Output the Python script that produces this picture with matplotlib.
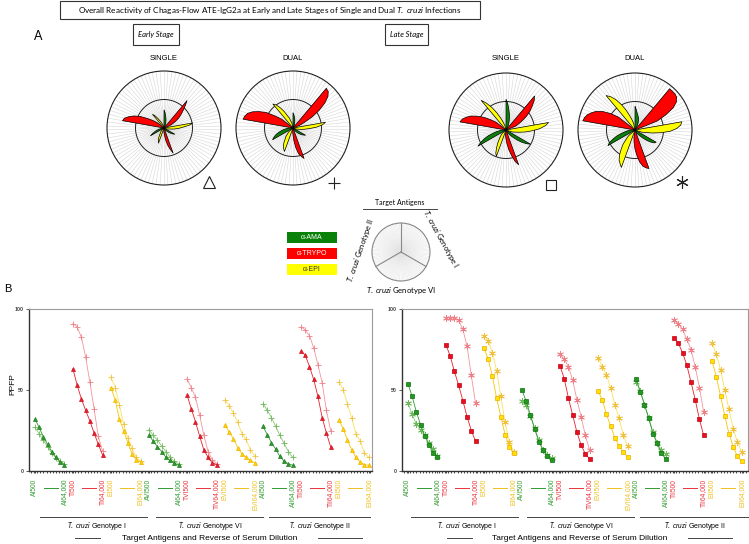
import matplotlib.pyplot as plt
import numpy as np
from matplotlib.lines import Line2D
from matplotlib.patches import Rectangle, Circle

plt.rcParams['mathtext.fontset'] = 'custom'
plt.rcParams['mathtext.rm'] = 'Lato'
plt.rcParams['mathtext.it'] = 'Lato:italic'

W, H = 749, 544

# groups in order: AMA / TRYPO / EPI for genotype I, VI, II
groups = ["AI", "TI", "EI", "AVI", "TVI", "EVI", "AII", "TII", "EII"]
tick_labels = ["AI500", "AI64,000", "TI500", "TI64,000", "EI500", "EI64,000",
               "AVI500", "AI64,000", "TVI500", "TIV64,000", "EVI500", "EVI64,000",
               "AII500", "AII64,000", "TII500", "TII64,000", "EII500", "EII64,000"]
genotypes = ["I", "VI", "II"]

# PPFP for serum dilutions 1:500 ... 1:64,000
early_single = [
    [32, 27, 21, 16.5, 12, 8.5, 5.5, 4],
    [63, 53, 44.5, 37.5, 31, 23.5, 16.5, 10],
    [51.5, 44, 32, 25, 17.5, 10.5, 7, 5.5],
    [22, 18.5, 15, 12, 8.5, 6.5, 5, 3.5],
    [47, 38.5, 30.5, 21.5, 13, 8.5, 5, 4],
    [28.5, 24, 20, 14.5, 10.5, 8.5, 6.5, 5],
    [27.5, 22.5, 17.5, 13.5, 9, 6, 4.5, 3.5],
    [74, 71.5, 64.5, 56.5, 46, 33, 23.5, 15],
    [31.5, 26, 19, 13, 8.5, 5.5, 4, 3.5],
]
early_dual = [
    [27, 23, 19, 15, 11, 8, 6, 4.5],
    [91, 89, 82.5, 70.5, 55, 38.5, 21.5, 12.5],
    [58, 51.5, 41, 29, 20.5, 14, 8.5, 6],
    [25.5, 22, 19, 15.5, 12, 8.5, 6, 4.5],
    [57, 51.5, 45.5, 34.5, 22, 12, 7, 4.5],
    [44, 40, 36, 30, 23, 19.5, 13, 9.5],
    [41.5, 37.5, 33, 27.5, 22, 17, 12, 8.5],
    [89, 87, 83.5, 76, 65.5, 54.5, 37.5, 25],
    [55, 50, 41.5, 32.5, 23, 18.5, 11, 8.5],
]
late_single = [
    [54, 46, 36.5, 28.5, 21.5, 16, 11, 8.5],
    [78, 71, 61.5, 53, 43.5, 33.5, 25, 18.5],
    [76, 69, 58.5, 45, 33.5, 22.5, 15, 11],
    [50, 43, 34.5, 26, 18, 13, 9, 6.5],
    [65, 57, 45, 34.5, 24, 16, 10.5, 7.5],
    [49.5, 44, 35, 27.5, 20.5, 15.5, 12, 8.5],
    [57, 49, 41, 32.5, 23, 17, 11, 7.5],
    [82, 79, 73, 65.5, 55, 44, 32, 22],
    [68, 58, 46.5, 34, 23, 15, 9, 6],
]
late_dual = [
    [42, 35, 29, 25.5, 22, 17.5, 13.5, 9],
    [94.5, 94.5, 94.5, 93, 87.5, 77, 59, 42],
    [83.5, 80.5, 73, 62, 46, 30, 18, 12],
    [43, 40.5, 34, 26.5, 19, 13, 10, 8],
    [72, 69, 64.5, 56, 44, 33.5, 22, 13],
    [70, 64.5, 59.5, 51, 41, 32.5, 22, 15.5],
    [55, 49.5, 41, 33, 24, 17.5, 13, 10.5],
    [93, 91, 87.5, 81.5, 75, 64.5, 51.5, 36.5],
    [79, 72, 62.5, 50, 38, 26, 18, 11.5],
]

petal_colors = ["#0a820a", "#ff0000", "#ffff00"]
label_colors = ["#2f9a2f", "#e8323a", "#f0c020"]

fig = plt.figure(figsize=(W / 100, H / 100), dpi=100)


def fx(x):
    return x / W


def fy(y):
    return 1 - y / H


def ftext(x, y, s, **kw):
    kw.setdefault('ha', 'center')
    kw.setdefault('va', 'center')
    fig.text(fx(x), fy(y), s, **kw)


def fline(x1, y1, x2, y2, **kw):
    fig.add_artist(Line2D([fx(x1), fx(x2)], [fy(y1), fy(y2)],
                          transform=fig.transFigure, **kw))


# ---------- panel A header ----------
fig.add_artist(Rectangle((fx(60), fy(19)), fx(420), 18 / H, transform=fig.transFigure,
                         fc='white', ec='#333333', lw=0.8))
ftext(270, 10, r"Overall Reactivity of Chagas-Flow ATE-IgG2a at Early and Late Stages "
      r"of Single and Dual $\mathit{T.\ cruzi}$ Infections", family='Lato', fontsize=5.9)
ftext(38, 36, "A", family='Lato', fontsize=9)
for x0, x1, s in [(133, 179, "Early Stage"), (385, 428, "Late Stage")]:
    fig.add_artist(Rectangle((fx(x0), fy(45)), fx(x1 - x0), 21 / H, transform=fig.transFigure,
                             fc='white', ec='#333333', lw=0.8))
    ftext((x0 + x1) / 2, 35, s, family='Lato', style='italic', fontsize=5.5)


def radar(cx, cy, data, r=57):
    pad = 2
    ax = fig.add_axes([fx(cx - r - pad), fy(cy + r + pad), (2 * r + 2 * pad) / W,
                       (2 * r + 2 * pad) / H])
    lim = 100 * (r + pad) / r
    ax.set_xlim(-lim, lim)
    ax.set_ylim(-lim, lim)
    ax.axis('off')
    ang = np.deg2rad(np.arange(0, 360, 4))
    for a in ang:
        ax.plot([0, 100 * np.sin(a)], [0, 100 * np.cos(a)], color='#d6d6d6', lw=0.4, zorder=1)
    ax.add_patch(Circle((0, 0), 100, fc='none', ec='#222222', lw=0.8, zorder=2))
    ring = np.append(ang, ang[0])
    ax.plot(50 * np.sin(ring), 50 * np.cos(ring), color='#222222', lw=0.7, zorder=2)
    for g in range(9):
        a = np.deg2rad(40 * g + 4 * np.arange(8))
        v = np.array(data[g])
        xs = np.concatenate([[0], v * np.sin(a), [0]])
        ys = np.concatenate([[0], v * np.cos(a), [0]])
        ax.fill(xs, ys, fc=petal_colors[g % 3], ec='black', lw=0.5, zorder=3)


radar(164, 128, early_single)
radar(293, 128, early_dual)
radar(506, 130, late_single)
radar(635, 130, late_dual)
for x, s in [(164, "SINGLE"), (293, "DUAL"), (506, "SINGLE"), (635, "DUAL")]:
    ftext(x, 59, s, family='Liberation Sans', fontsize=5.5)

for x, y, m, ms in [(209, 182, '^', 8), (334, 183, '+', 9), (551, 185, 's', 7),
                    (682, 182, (6, 2, 0), 9)]:
    fig.add_artist(Line2D([fx(x)], [fy(y)], transform=fig.transFigure, marker=m, ms=ms,
                          mfc='none', mec='#222222', mew=0.8, ls='none'))

# legend boxes
for i, (s, tc) in enumerate([("\u03b1-AMA", 'white'), ("\u03b1-TRYPO", 'white'),
                              ("\u03b1-EPI", '#333333')]):
    y0 = 232 + 16 * i
    fig.add_artist(Rectangle((fx(287), fy(y0 + 11)), fx(50), 11 / H, transform=fig.transFigure,
                             fc=petal_colors[i], ec='none'))
    ftext(312, y0 + 5.5, s, family=['Liberation Sans', 'DejaVu Sans'], fontsize=5, color=tc)

# target antigens key
kr = 29
kax = fig.add_axes([fx(401 - kr - 1), fy(252 + kr + 1), (2 * kr + 2) / W, (2 * kr + 2) / H])
kax.set_xlim(-1.035, 1.035)
kax.set_ylim(-1.035, 1.035)
kax.axis('off')
for a in np.deg2rad(np.arange(0, 360, 3)):
    kax.plot([0, np.sin(a)], [0, np.cos(a)], color='#e4e4e4', lw=0.35, zorder=1)
kax.add_patch(Circle((0, 0), 1, fc='none', ec='#888888', lw=0.8, zorder=2))
for a in np.deg2rad([0, 120, 240]):
    kax.plot([0, np.sin(a)], [0, np.cos(a)], color='#888888', lw=0.8, zorder=3)
ftext(400, 203, "Target Antigens", family='Lato', fontsize=5)
fline(363, 209, 437, 209, color='#444444', lw=0.7)
ftext(361, 251, r"$\mathit{T.\ cruzi}$ Genotype II", family='Lato', fontsize=5.5, rotation=71)
ftext(441, 239, r"$\mathit{T.\ cruzi}$ Genotype I", family='Lato', fontsize=5.5, rotation=-61)
ftext(401, 290, r"$\mathit{T.\ cruzi}$ Genotype VI", family='Lato', fontsize=5.5)

# ---------- panel B ----------
ftext(8, 289, "B", family='Liberation Sans', fontsize=8)
ftext(13, 384, "PPFP", family='Liberation Sans', fontsize=6, rotation=90)

single_styles = {
    '^': [("#2f9a2f", "#2f9a2f", "#1f7f1f"), ("#e8202a", "#e8202a", "#d01020"),
          ("#f5c800", "#ffd800", "#f0b000")],
    's': [("#2f9a2f", "#1f9a1f", "#0e6e0e"), ("#e8202a", "#e8101e", "#c00010"),
          ("#f5c800", "#ffe400", "#f0a800")],
}
dual_colors = [("#86c870", "#6cb85a"), ("#f4949a", "#ee8088"), ("#f8e25a", "#f0c040")]


def panel(x0, x1, single, dual, s_mk, d_mk, xmax):
    ax = fig.add_axes([fx(x0), fy(471), fx(x1 - x0), 162 / H])
    for g in range(9):
        x = 9 * g + np.arange(8)
        c = g % 3
        lc, mc = dual_colors[c]
        ax.plot(x, dual[g], color=lc, lw=0.6, marker=d_mk, ms=4.8, mec=mc, mfc='none', mew=0.6,
                zorder=2)
        lc, fc, ec = single_styles[s_mk][c]
        ax.plot(x, single[g], color=lc, lw=0.6, marker=s_mk, ms=2.9, mfc=fc, mec=ec, mew=0.5,
                zorder=3)
    ax.set_xlim(-1.4, xmax)
    ax.set_ylim(0, 100)
    ax.set_yticks([0, 50, 100])
    ax.set_yticklabels(["0", "50", "100"], fontsize=3.8, family='Liberation Sans',
                       fontweight='bold', color='#444444')
    ax.tick_params(axis='y', length=2, width=0.6, pad=2, color='#444444')
    pos = []
    for g in range(9):
        pos += [9 * g, 9 * g + 7]
    ax.set_xticks(pos)
    ax.set_xticklabels(tick_labels, rotation=90, fontsize=4.8, family='Liberation Sans')
    for i, lab in enumerate(ax.get_xticklabels()):
        lab.set_color(label_colors[(i // 2) % 3])
    ax.set_xticks(np.arange(-1, xmax, 0.75), minor=True)
    ax.tick_params(axis='x', which='major', length=1.5, width=0.5, pad=4)
    ax.tick_params(axis='x', which='minor', length=1.2, width=0.5)
    for s in ['left', 'bottom']:
        ax.spines[s].set_color('#333333')
        ax.spines[s].set_linewidth(1.0)
    for s in ['top', 'right']:
        ax.spines[s].set_color('#9a9a9a')
        ax.spines[s].set_linewidth(0.8)
    tr = ax.get_xaxis_transform()
    for g in range(9):
        ax.add_line(Line2D([9 * g + 2.1, 9 * g + 5.5], [-0.105, -0.105], transform=tr,
                           color=label_colors[g % 3], lw=0.7, clip_on=False))
    return ax


panel(29, 372, early_single, early_dual, '^', '+', 79.8)
panel(402, 748, late_single, late_dual, 's', (6, 2, 0), 80.5)

# genotype brackets and axis titles
brackets = [
    [(40, 147, 97), (156, 263, 210), (269, 370, 320)],
    [(411, 518, 467), (527, 634, 581), (640, 748, 695)],
]
for br in brackets:
    for (a, b, c), gt in zip(br, genotypes):
        fline(a, 517, b, 517, color='#444444', lw=0.7)
        ftext(c, 526, r"$\mathit{T.\ cruzi}$ Genotype " + gt, family='Liberation Sans',
              fontsize=5)
for c, l1, l2 in [(210, (75, 100), (318, 362)), (580, (447, 472), (688, 732))]:
    ftext(c, 538, "Target Antigens and Reverse of Serum Dilution", family='Liberation Sans',
          fontsize=6)
    fline(l1[0], 538, l1[1], 538, color='#444444', lw=0.7)
    fline(l2[0], 538, l2[1], 538, color='#444444', lw=0.7)

fig.savefig("out.png", dpi=100)
